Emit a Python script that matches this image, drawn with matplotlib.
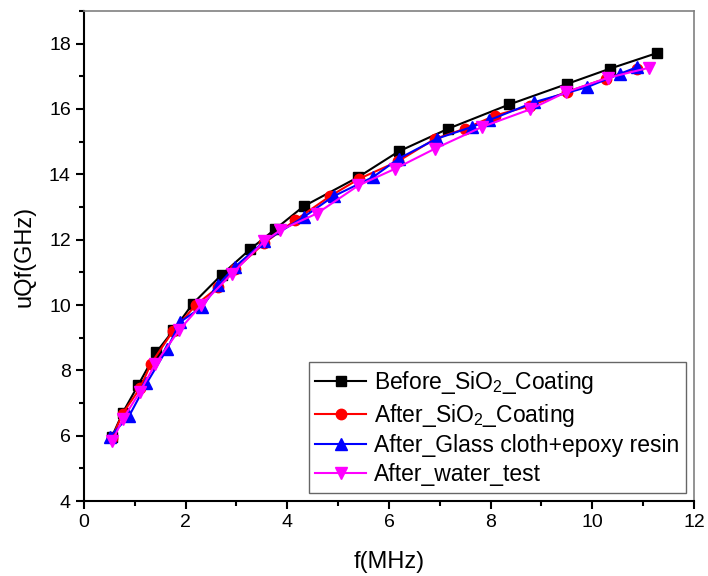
import matplotlib
matplotlib.use("Agg")
import matplotlib.pyplot as plt
from matplotlib.ticker import MultipleLocator

plt.rcParams['font.family'] = ['Liberation Sans', 'DejaVu Sans']
plt.rcParams['mathtext.fontset'] = 'custom'
plt.rcParams['mathtext.rm'] = 'Liberation Sans'
plt.rcParams['mathtext.it'] = 'Liberation Sans:italic'

# Before_SiO2_Coating
f_before = [0.55, 0.76, 1.07, 1.42, 1.76, 2.14, 2.71, 3.27, 3.76, 4.32, 5.40, 6.19, 7.17, 8.37, 9.51, 10.34, 11.27]
q_before = [5.97, 6.70, 7.56, 8.55, 9.23, 10.04, 10.93, 11.71, 12.32, 13.02, 13.92, 14.70, 15.40, 16.14, 16.77, 17.23, 17.71]

# After_SiO2_Coating
f_after = [0.55, 0.76, 1.10, 1.32, 1.75, 2.20, 2.64, 2.98, 3.55, 4.15, 4.84, 5.42, 6.18, 6.91, 7.50, 8.09, 8.78, 9.50, 10.26, 10.88]
q_after = [5.92, 6.68, 7.45, 8.21, 9.20, 10.00, 10.55, 11.10, 11.90, 12.59, 13.33, 13.87, 14.40, 15.09, 15.40, 15.80, 16.10, 16.52, 16.93, 17.23]

# After_Glass cloth+epoxy resin
f_glass = [0.51, 0.89, 1.23, 1.64, 1.89, 2.32, 2.63, 2.97, 3.55, 4.32, 4.91, 5.69, 6.19, 6.94, 7.63, 7.96, 8.86, 9.90, 10.55, 10.88]
q_glass = [5.97, 6.61, 7.60, 8.67, 9.48, 9.94, 10.60, 11.17, 11.95, 12.69, 13.33, 13.92, 14.48, 15.09, 15.45, 15.65, 16.21, 16.67, 17.08, 17.28]

# After_water_test
f_water = [0.56, 0.76, 1.10, 1.40, 1.87, 2.30, 2.91, 3.55, 3.86, 4.58, 5.40, 6.12, 6.91, 7.83, 8.78, 9.49, 10.30, 11.11]
q_water = [5.84, 6.50, 7.34, 8.19, 9.23, 9.99, 10.96, 11.95, 12.29, 12.80, 13.66, 14.17, 14.79, 15.45, 15.99, 16.52, 16.95, 17.26]

fig = plt.figure(figsize=(7.08, 5.76), dpi=100)
ax = fig.add_axes([0.1186, 0.130, 0.8616, 0.851])

ax.plot(f_before, q_before, color='black', marker='s', ms=7.5, lw=1.5,
        label='Before_SiO$_\\mathregular{2}$_Coating')
ax.plot(f_after, q_after, color='red', marker='o', ms=7.5, lw=1.5,
        label='After_SiO$_\\mathregular{2}$_Coating')
ax.plot(f_glass, q_glass, color='blue', marker='^', ms=8, lw=1.5,
        label='After_Glass cloth+epoxy resin')
ax.plot(f_water, q_water, color='magenta', marker='v', ms=8, lw=1.5,
        label='After_water_test')

ax.set_xlim(0, 12)
ax.set_ylim(4, 19)
ax.xaxis.set_major_locator(MultipleLocator(2))
ax.xaxis.set_minor_locator(MultipleLocator(1))
ax.yaxis.set_major_locator(MultipleLocator(2))
ax.yaxis.set_minor_locator(MultipleLocator(1))
ax.tick_params(which='major', direction='out', length=6, width=1.5, labelsize=14)
ax.tick_params(which='minor', direction='out', length=3.5, width=1.5)

for s in ['left', 'bottom']:
    ax.spines[s].set_linewidth(1.5)
for s in ['top', 'right']:
    ax.spines[s].set_color('#808080')
    ax.spines[s].set_linewidth(1.2)

ax.set_xlabel('f(MHz)', fontsize=17, labelpad=14)
ax.set_ylabel('uQf(GHz)', fontsize=17, labelpad=10)

leg = ax.legend(loc='lower right', fontsize=16.5, frameon=True, fancybox=False,
                edgecolor='#404040', handlelength=2.2, handletextpad=0.35,
                labelspacing=0.25, borderpad=0.3, borderaxespad=0.35)
leg.get_frame().set_linewidth(1.0)

fig.savefig('out.png', dpi=100)
